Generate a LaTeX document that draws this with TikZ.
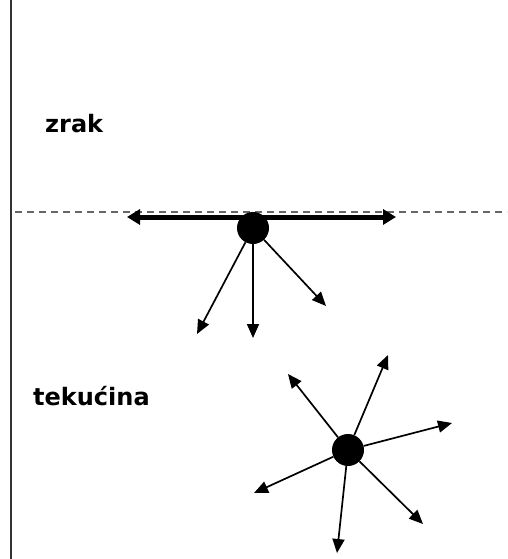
\documentclass[tikz,border=0pt]{standalone}
\usepackage{fontspec}
\setmainfont{DejaVu Sans}
\usetikzlibrary{arrows.meta}
\begin{document}
\begin{tikzpicture}[x=1pt,y=-1pt,
  dot/.style={circle,fill=black,inner sep=0pt,minimum size=32pt},
  ray/.style={line width=1.7pt,-{Triangle[length=14pt,width=12pt]}},
  big/.style={line width=5pt,{Triangle[length=13pt,width=15pt]}-{Triangle[length=13pt,width=15pt]}},
  lbl/.style={font=\fontsize{24}{27}\selectfont\bfseries,anchor=base west,inner sep=0pt}]
\useasboundingbox (0,0) rectangle (507,559);
\draw[line width=1.6pt,black!80] (11,0) -- (11,559);
\draw[line width=1.8pt,dash pattern=on 7pt off 5pt,black!60] (15,212) -- (507,212);
\node[lbl] (zrak) at (45,132) {zrak};
\node[lbl] (tek) at (33,405) {tekućina};
% upper particle
\coordinate (L) at (127,217);
\coordinate (R) at (396,217);
\draw[big] (L) -- (R);
\node[dot] (d1) at (253,228) {};
\coordinate (a1) at (197,334);
\coordinate (a2) at (253,338);
\coordinate (a3) at (326,306);
\foreach \t in {a1,a2,a3} \draw[ray] (d1) -- (\t);
% lower particle
\node[dot] (d2) at (348,450) {};
\coordinate (b1) at (288,374);
\coordinate (b2) at (388,355);
\coordinate (b3) at (452,423);
\coordinate (b4) at (423,524);
\coordinate (b5) at (337,553);
\coordinate (b6) at (254,493);
\foreach \t in {b1,b2,b3,b4,b5,b6} \draw[ray] (d2) -- (\t);
\end{tikzpicture}
\end{document}
